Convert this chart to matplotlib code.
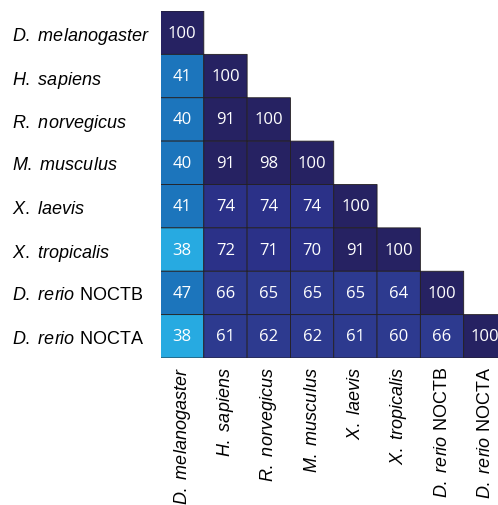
import numpy as np
import matplotlib
matplotlib.use("Agg")
import matplotlib.pyplot as plt
from matplotlib.colors import ListedColormap, BoundaryNorm

plt.rcParams['font.family'] = 'Liberation Sans'
plt.rcParams['mathtext.fontset'] = 'custom'
plt.rcParams['mathtext.it'] = 'Liberation Sans:italic'
plt.rcParams['mathtext.rm'] = 'Liberation Sans'

species = [r"$\mathit{D.}$ $\mathit{melanogaster}$", r"$\mathit{H.}$ $\mathit{sapiens}$",
           r"$\mathit{R.}$ $\mathit{norvegicus}$", r"$\mathit{M.}$ $\mathit{musculus}$",
           r"$\mathit{X.}$ $\mathit{laevis}$", r"$\mathit{X.}$ $\mathit{tropicalis}$",
           r"$\mathit{D.}$ $\mathit{rerio}$ NOCTB", r"$\mathit{D.}$ $\mathit{rerio}$ NOCTA"]

rows = [
    [100],
    [41, 100],
    [40, 91, 100],
    [40, 91, 98, 100],
    [41, 74, 74, 74, 100],
    [38, 72, 71, 70, 91, 100],
    [47, 66, 65, 65, 65, 64, 100],
    [38, 61, 62, 62, 61, 60, 66, 100],
]

n = len(rows)
M = np.full((n, n), np.nan)
for i, r in enumerate(rows):
    M[i, :len(r)] = r

colors = ["#27AAE1", "#1C75BC", "#2D3A8F", "#2B3188", "#262262"]
bounds = [0, 39, 50, 67, 90, 101]
cmap = ListedColormap(colors)
norm = BoundaryNorm(bounds, cmap.N)

W, H = 498, 506
fig = plt.figure(figsize=(W / 100, H / 100), dpi=100)
left, right, top, bottom = 160.5, 507.0, 12.0, 359.0
ax = fig.add_axes([left / W, 1 - bottom / H, (right - left) / W, (bottom - top) / H])

Mm = np.ma.masked_invalid(M)
ax.pcolor(np.arange(n + 1), np.arange(n + 1), Mm, cmap=cmap, norm=norm,
          edgecolor="#231F20", linewidth=0.6)
ax.set_xlim(0, n)
ax.set_ylim(n, 0)

for i in range(n):
    for j in range(len(rows[i])):
        ax.text(j + 0.5, i + 0.5, f"{rows[i][j]}", ha="center", va="center",
                color="white", fontsize=12, family="Open Sans")

for s in ax.spines.values():
    s.set_visible(False)

ax.set_yticks(np.arange(n) + 0.5)
ax.set_yticklabels(species, fontsize=13, ha="left")
ax.tick_params(axis="y", length=0, pad=(left - 12) * 0.72)
ax.set_xticks(np.arange(n) + 0.5)
ax.set_xticklabels(species, fontsize=13, rotation=90, ha="center", va="top")
ax.tick_params(axis="x", length=0, pad=6)

fig.savefig("out.png", dpi=100)
